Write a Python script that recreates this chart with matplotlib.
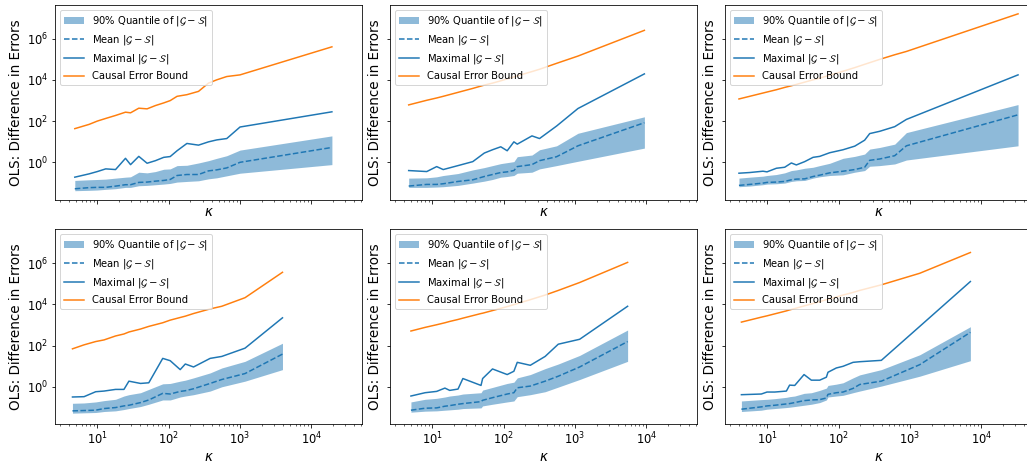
import matplotlib
matplotlib.use("Agg")
import matplotlib.pyplot as plt
from matplotlib.ticker import LogLocator, NullLocator

# panel order: top-left, top-middle, top-right, bottom-left, bottom-middle, bottom-right

kappa_tl = [4.83, 7.66, 10, 13.1, 18.0, 24.8, 29.2, 38.1, 49.8, 65.2, 85.2, 105, 131, 180, 262, 361, 472, 652, 1000, 19400]
bound_tl = [42.9, 69, 100, 134, 187, 270, 251, 421, 391, 565, 759, 982, 1585, 1905, 2754, 6918, 10000, 14454, 17378, 398107]
max_tl = [0.19, 0.275, 0.356, 0.48, 0.445, 1.56, 0.77, 1.94, 0.90, 1.2, 1.74, 1.9, 3.63, 8.2, 6.8, 9.8, 12.2, 14.2, 51.5, 281]
mean_tl = [0.052, 0.059, 0.061, 0.061, 0.070, 0.082, 0.082, 0.106, 0.11, 0.122, 0.132, 0.147, 0.229, 0.256, 0.256, 0.384, 0.43, 0.535, 1.0, 5.25]
q_hi_tl = [0.132, 0.142, 0.147, 0.153, 0.171, 0.19, 0.198, 0.331, 0.308, 0.356, 0.461, 0.479, 0.692, 0.718, 0.929, 1.2, 1.56, 2.09, 3.91, 19.1]
q_lo_tl = [0.042, 0.0437, 0.0453, 0.0488, 0.0525, 0.0608, 0.0608, 0.0731, 0.0759, 0.0817, 0.0879, 0.0946, 0.11, 0.118, 0.127, 0.158, 0.177, 0.221, 0.296, 0.773]

kappa_tm = [4.66, 8.35, 11.5, 14.2, 22.9, 36.9, 53.5, 69.7, 91, 112, 139, 155, 249, 318, 552, 1099, 9380]
bound_tm = [608, 1019, 1318, 1585, 2466, 3837, 5546, 6918, 8954, 11169, 13932, 15560, 25119, 32510, 63096, 141906, 2511886]
max_tm = [0.398, 0.356, 0.619, 0.445, 0.692, 1.08, 2.81, 4.06, 5.65, 3.63, 9.82, 7.59, 19.1, 14.2, 57.5, 406, 19409]
mean_tm = [0.0705, 0.0847, 0.0847, 0.0912, 0.118, 0.142, 0.205, 0.256, 0.319, 0.344, 0.398, 0.619, 0.773, 1.2, 1.87, 6.31, 83.2]
q_hi_tm = [0.171, 0.177, 0.198, 0.229, 0.286, 0.429, 0.555, 0.692, 0.863, 0.964, 1.08, 1.87, 2.25, 4.06, 6.31, 25.6, 161]
q_lo_tm = [0.0608, 0.0608, 0.0631, 0.0655, 0.0759, 0.0982, 0.122, 0.147, 0.19, 0.205, 0.229, 0.296, 0.331, 0.479, 0.692, 1.12, 4.88]

kappa_tr = [4.0, 5.65, 8.69, 9.89, 13.4, 17.5, 21.7, 25.5, 33.4, 43.7, 54.2, 74.8, 115, 168, 231, 272, 376, 610, 889, 32660]
bound_tr = [1180, 1585, 2291, 2559, 3311, 4285, 5152, 5970, 7727, 10000, 12023, 16749, 26062, 39084, 56494, 67920, 98175, 164437, 237684, 15848932]
max_tr = [0.296, 0.319, 0.37, 0.344, 0.515, 0.575, 0.929, 0.745, 1.08, 1.74, 1.94, 2.91, 4.06, 6.08, 11.8, 24.7, 31.9, 53.5, 120, 17378]
mean_tr = [0.0759, 0.0847, 0.0982, 0.106, 0.11, 0.118, 0.142, 0.153, 0.158, 0.205, 0.238, 0.308, 0.37, 0.445, 0.575, 1.25, 1.45, 2.09, 6.31, 201]
q_hi_tr = [0.171, 0.19, 0.213, 0.229, 0.256, 0.308, 0.398, 0.429, 0.515, 0.575, 0.692, 0.895, 1.56, 1.94, 2.51, 4.37, 5.25, 7.59, 27.5, 631]
q_lo_tr = [0.0655, 0.0705, 0.082, 0.0879, 0.0912, 0.0982, 0.118, 0.127, 0.132, 0.171, 0.198, 0.229, 0.247, 0.331, 0.398, 0.643, 0.692, 0.832, 1.29, 6.31]

kappa_bl = [4.48, 6.51, 9.48, 12.4, 18.0, 23.6, 27.7, 40.3, 52.6, 82.5, 105, 145, 171, 223, 381, 555, 1175, 3936]
bound_bl = [69.2, 108, 156, 187, 291, 363, 453, 631, 847, 1271, 1706, 2291, 2655, 3565, 5970, 8017, 20893, 356451]
max_bl = [0.319, 0.331, 0.575, 0.619, 0.745, 0.745, 1.87, 1.45, 1.56, 23.8, 18.4, 6.79, 12.7, 9.12, 23.8, 29.6, 74.5, 2208]
mean_bl = [0.0679, 0.0705, 0.0731, 0.0879, 0.0982, 0.118, 0.127, 0.171, 0.229, 0.479, 0.445, 0.597, 0.643, 0.802, 1.45, 2.25, 4.37, 38.4]
q_hi_bl = [0.158, 0.164, 0.184, 0.213, 0.247, 0.356, 0.413, 0.515, 0.745, 1.39, 1.45, 1.87, 2.09, 2.7, 4.7, 8.17, 17.1, 129]
q_lo_bl = [0.0525, 0.0545, 0.0565, 0.0631, 0.0679, 0.0787, 0.0879, 0.11, 0.142, 0.229, 0.229, 0.319, 0.356, 0.413, 0.619, 1.0, 1.87, 6.79]

kappa_bm = [5.01, 7.92, 11.5, 15.0, 17.5, 22.9, 26.8, 48.1, 50.7, 69.7, 112, 139, 155, 236, 381, 582, 1161, 5458]
bound_bm = [506, 759, 1019, 1271, 1472, 1837, 2128, 3565, 3698, 4966, 7727, 9638, 10765, 16749, 28054, 46989, 113763, 1076465]
max_bm = [0.356, 0.515, 0.597, 0.863, 0.667, 0.773, 2.51, 1.16, 2.51, 7.31, 3.91, 5.65, 15.3, 11.0, 29.6, 116, 201, 8017]
mean_bm = [0.0731, 0.0912, 0.0946, 0.114, 0.122, 0.142, 0.153, 0.19, 0.221, 0.296, 0.445, 0.515, 0.895, 1.08, 1.87, 3.25, 9.12, 156]
q_hi_bm = [0.184, 0.247, 0.275, 0.319, 0.356, 0.398, 0.445, 0.515, 0.692, 0.929, 1.45, 1.67, 2.7, 3.91, 7.59, 12.7, 33.1, 565]
q_lo_bm = [0.0586, 0.0655, 0.0679, 0.0731, 0.0759, 0.0817, 0.0879, 0.0946, 0.118, 0.142, 0.184, 0.205, 0.331, 0.413, 0.575, 0.964, 2.25, 17.1]

kappa_br = [4.33, 8.24, 9.89, 12.7, 18.5, 20.5, 24.2, 32.7, 41.4, 54.2, 67.2, 70.8, 92.7, 115, 159, 197, 396, 1368, 7015]
bound_br = [1368, 2377, 2754, 3436, 4786, 5346, 6194, 8318, 10375, 13428, 16749, 17378, 22491, 28054, 37670, 46989, 87902, 319154, 3250873]
max_br = [0.413, 0.445, 0.555, 0.555, 0.619, 1.2, 1.16, 3.91, 2.09, 2.09, 2.91, 5.06, 8.17, 9.82, 15.3, 16.4, 19.1, 847, 127057]
mean_br = [0.0817, 0.106, 0.118, 0.127, 0.147, 0.153, 0.171, 0.213, 0.229, 0.238, 0.286, 0.429, 0.515, 0.555, 0.832, 1.29, 1.87, 11.8, 437]
q_hi_br = [0.205, 0.238, 0.247, 0.265, 0.308, 0.331, 0.356, 0.479, 0.515, 0.667, 0.863, 1.16, 1.34, 1.56, 2.7, 3.77, 6.79, 35.6, 817]
q_lo_br = [0.0631, 0.0731, 0.0817, 0.0879, 0.0982, 0.102, 0.11, 0.127, 0.142, 0.171, 0.229, 0.319, 0.356, 0.384, 0.515, 0.619, 1.08, 3.25, 18.4]

panels = [
    (kappa_tl, bound_tl, max_tl, mean_tl, q_lo_tl, q_hi_tl),
    (kappa_tm, bound_tm, max_tm, mean_tm, q_lo_tm, q_hi_tm),
    (kappa_tr, bound_tr, max_tr, mean_tr, q_lo_tr, q_hi_tr),
    (kappa_bl, bound_bl, max_bl, mean_bl, q_lo_bl, q_hi_bl),
    (kappa_bm, bound_bm, max_bm, mean_bm, q_lo_bm, q_hi_bm),
    (kappa_br, bound_br, max_br, mean_br, q_lo_br, q_hi_br),
]

diff = r"$|\mathcal{G} - \mathcal{S}|$"

plt.rcParams["font.size"] = 11.5
plt.rcParams["axes.labelsize"] = 13.5
plt.rcParams["legend.fontsize"] = 10

fig, axes = plt.subplots(2, 3, sharex=True, sharey=True, figsize=(1027 / 72, 468 / 72), dpi=72)
# right column runs slightly past the figure edge, like the cropped original
fig.subplots_adjust(left=55 / 1027, right=1032 / 1027, bottom=44 / 468, top=463 / 468,
                    wspace=28 / 307, hspace=30 / 195)

for ax, (k, bound, mx, mean, lo, hi) in zip(axes.flat, panels):
    ax.fill_between(k, lo, hi, color="C0", alpha=0.5, linewidth=0, label="90% Quantile of " + diff)
    ax.plot(k, mean, "--", color="C0", label="Mean " + diff)
    ax.plot(k, mx, "-", color="C0", label="Maximal " + diff)
    ax.plot(k, bound, "-", color="C1", label="Causal Error Bound")
    ax.set_xscale("log")
    ax.set_yscale("log")
    ax.set_xlabel(r"$\kappa$", labelpad=2)
    ax.set_ylabel("OLS: Difference in Errors")
    ax.legend(loc="upper left")

ax0 = axes[0, 0]
ax0.yaxis.set_major_locator(LogLocator(base=10, numticks=6))
ax0.yaxis.set_minor_locator(NullLocator())

fig.savefig("out.png", dpi=72)
